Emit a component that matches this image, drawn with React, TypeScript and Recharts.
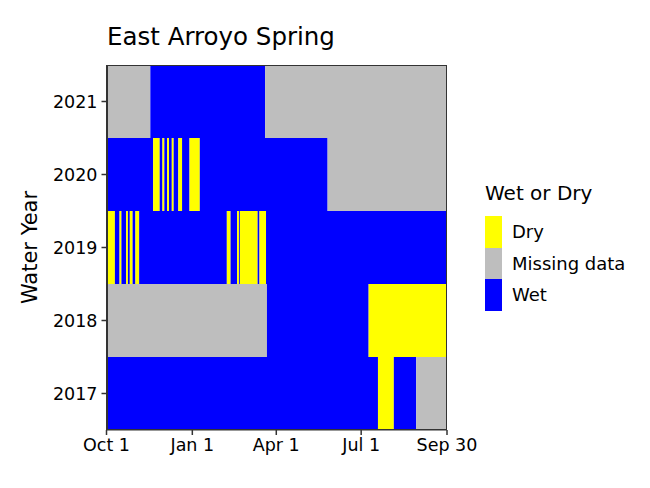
import { BarChart, Bar, Cell, XAxis, YAxis } from 'recharts';

type Status = 'Dry' | 'Missing data' | 'Wet';
type Run = [number, Status]; // [last day of the run, status]

const STATUS_COLORS: Record<Status, string> = {
  Dry: '#FFFF00',
  'Missing data': '#BEBEBE',
  Wet: '#0000FF',
};
const LEGEND_ORDER: Status[] = ['Dry', 'Missing data', 'Wet'];

// days since Oct 1 of the water year
const runs2021: Run[] = [[47, 'Missing data'], [170, 'Wet'], [365, 'Missing data']];
const runs2020: Run[] = [
  [50, 'Wet'], [57, 'Dry'], [60, 'Wet'], [62, 'Dry'], [65, 'Wet'], [67, 'Dry'],
  [70, 'Wet'], [72, 'Dry'], [77, 'Wet'], [81, 'Dry'], [89, 'Wet'], [100, 'Dry'],
  [237, 'Wet'], [365, 'Missing data'],
];
const runs2019: Run[] = [
  [1, 'Wet'], [9, 'Dry'], [14, 'Wet'], [16, 'Dry'], [21, 'Wet'], [23, 'Dry'],
  [25, 'Wet'], [28, 'Dry'], [31, 'Wet'], [35, 'Dry'], [129, 'Wet'], [133, 'Dry'],
  [140, 'Wet'], [142, 'Dry'], [143, 'Wet'], [162, 'Dry'], [164, 'Wet'], [171, 'Dry'],
  [365, 'Wet'],
];
const runs2018: Run[] = [[172, 'Missing data'], [281, 'Wet'], [365, 'Dry']];
const runs2017: Run[] = [[291, 'Wet'], [308, 'Dry'], [332, 'Wet'], [365, 'Missing data']];

const years = ['2021', '2020', '2019', '2018', '2017'];
const yearRuns = [runs2021, runs2020, runs2019, runs2018, runs2017];

const xTicks = [0, 92, 182, 273, 365];
const xTickLabels = ['Oct 1', 'Jan 1', 'Apr 1', 'Jul 1', 'Sep 30'];

const FONT = '"DejaVu Sans", sans-serif';

const maxSegs = Math.max(...yearRuns.map((r) => r.length));
const segKeys = Array.from({ length: maxSegs }, (_, i) => `s${i}`);

const rows = years.map((year, i) => {
  const row: { [key: string]: string | number } = { year };
  let prev = 0;
  yearRuns[i].forEach(([end], j) => {
    row[`s${j}`] = end - prev;
    prev = end;
  });
  return row;
});

export default function App() {
  return (
    <div style={{ position: 'absolute', left: 0, top: 0, width: 650, height: 488, background: '#fff', fontFamily: FONT }}>
      <div style={{ position: 'absolute', left: 107, top: 22, fontSize: 24.5, lineHeight: '30px', color: '#000' }}>
        East Arroyo Spring
      </div>
      <BarChart
        width={650}
        height={488}
        data={rows}
        layout="vertical"
        barCategoryGap={0}
        margin={{ top: 65, right: 203, bottom: 28, left: 0 }}
      >
        <XAxis
          type="number"
          domain={[0, 365]}
          ticks={xTicks}
          tickFormatter={(v: number) => xTickLabels[xTicks.indexOf(v)] ?? ''}
          height={30}
          tickSize={5}
          tickMargin={4}
          axisLine={{ stroke: '#333' }}
          tickLine={{ stroke: '#333', strokeWidth: 1.5 }}
          tick={{ fill: '#000', fontSize: 17.5, fontFamily: FONT }}
          allowDataOverflow
        />
        <YAxis
          type="category"
          dataKey="year"
          width={106.5}
          tickSize={5}
          tickMargin={4}
          axisLine={{ stroke: '#333' }}
          tickLine={{ stroke: '#333', strokeWidth: 1.5 }}
          tick={{ fill: '#000', fontSize: 17.5, fontFamily: FONT }}
          label={{ value: 'Water Year', angle: -90, position: 'insideLeft', offset: 30, style: { fontSize: 21, fill: '#000', fontFamily: FONT, textAnchor: 'middle' } }}
        />
        {segKeys.map((key, j) => (
          <Bar key={key} dataKey={key} stackId="a" isAnimationActive={false}>
            {yearRuns.map((runs, i) => (
              <Cell key={`c-${i}`} fill={runs[j] ? STATUS_COLORS[runs[j][1]] : 'none'} />
            ))}
          </Bar>
        ))}
      </BarChart>
      <div
        style={{
          position: 'absolute', left: 106.5, top: 65, width: 340.5, height: 365,
          border: '1px solid #333', boxSizing: 'border-box', pointerEvents: 'none',
        }}
      />
      <div style={{ position: 'absolute', left: 485, top: 180 }}>
        <div style={{ fontSize: 20, lineHeight: '26px', color: '#000', marginBottom: 10 }}>Wet or Dry</div>
        {LEGEND_ORDER.map((s) => (
          <div key={s} style={{ display: 'flex', alignItems: 'center', height: 31.5 }}>
            <div style={{ width: 17, height: 31.5, background: STATUS_COLORS[s] }} />
            <span style={{ marginLeft: 10, fontSize: 18, color: '#000' }}>{s}</span>
          </div>
        ))}
      </div>
    </div>
  );
}
